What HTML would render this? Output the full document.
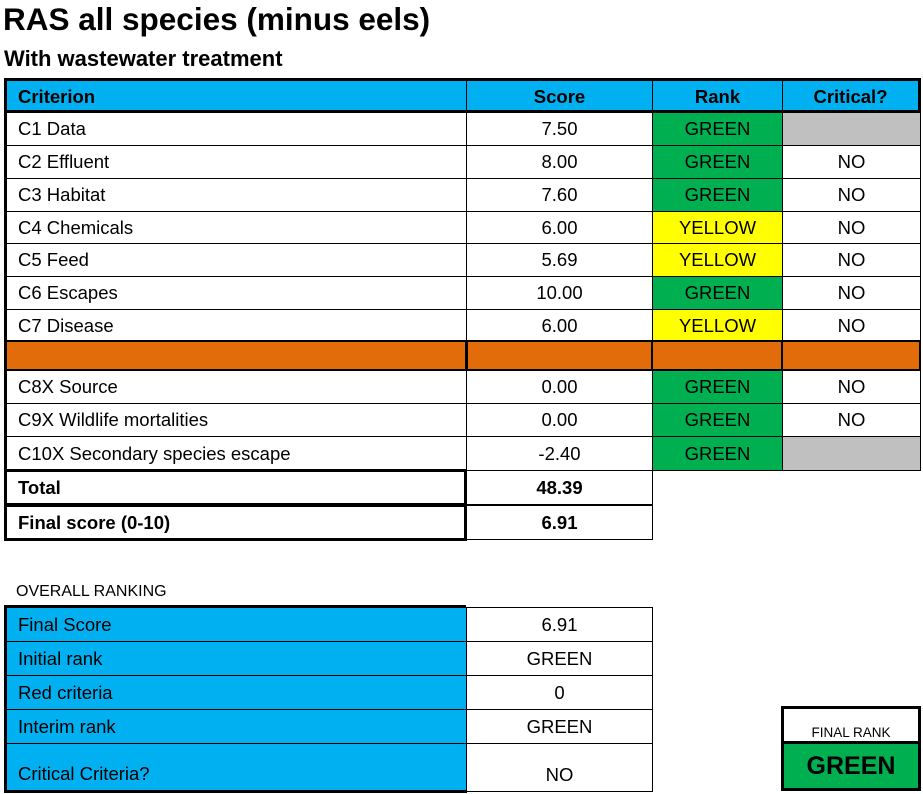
<!DOCTYPE html>
<html><head><meta charset="utf-8"><style>
body{margin:0;width:923px;height:794px;background:#fff;position:relative;overflow:hidden;font-family:"Liberation Sans",Arial,sans-serif;color:#000}
.c{position:absolute;box-sizing:border-box;font-size:18.5px;display:flex;align-items:center;border:1px solid #000;white-space:nowrap}
.l{padding-left:11px}
.m{justify-content:center}
.b{font-weight:bold}
.blue{background:#00b0f0}.g{background:#00b050}.y{background:#ffff00}.o{background:#e36c0a}.gr{background:#c0c0c0}
</style></head><body>
<div style="position:absolute;left:3px;top:1px;font-size:31.5px;font-weight:bold">RAS all species (minus eels)</div>
<div style="position:absolute;left:4px;top:46px;font-size:22px;font-weight:bold">With wastewater treatment</div>

<div style="position:absolute;left:4px;top:78px;width:917px;height:3px;background:#000"></div>
<div class="c blue l b" style="left:4px;top:80px;width:463px;height:33px;border-left:3px solid #000">Criterion</div>
<div class="c blue m b" style="left:466px;top:80px;width:187px;height:33px">Score</div>
<div class="c blue m b" style="left:652px;top:80px;width:131px;height:33px">Rank</div>
<div class="c blue m b" style="left:782px;top:80px;width:139px;height:33px;border-right:3px solid #000">Critical?</div>
<div style="position:absolute;left:4px;top:110px;width:917px;height:3px;background:#000"></div>

<div class="c l" style="left:4px;top:112px;width:463px;height:34px;border-left:3px solid #000">C1 Data</div>
<div class="c m" style="left:466px;top:112px;width:187px;height:34px">7.50</div>
<div class="c m g" style="left:652px;top:112px;width:131px;height:34px">GREEN</div>
<div class="c m gr" style="left:782px;top:112px;width:139px;height:34px"></div>

<div class="c l" style="left:4px;top:145px;width:463px;height:34px;border-left:3px solid #000">C2 Effluent</div>
<div class="c m" style="left:466px;top:145px;width:187px;height:34px">8.00</div>
<div class="c m g" style="left:652px;top:145px;width:131px;height:34px">GREEN</div>
<div class="c m" style="left:782px;top:145px;width:139px;height:34px">NO</div>

<div class="c l" style="left:4px;top:178px;width:463px;height:34px;border-left:3px solid #000">C3 Habitat</div>
<div class="c m" style="left:466px;top:178px;width:187px;height:34px">7.60</div>
<div class="c m g" style="left:652px;top:178px;width:131px;height:34px">GREEN</div>
<div class="c m" style="left:782px;top:178px;width:139px;height:34px">NO</div>

<div class="c l" style="left:4px;top:211px;width:463px;height:33px;border-left:3px solid #000">C4 Chemicals</div>
<div class="c m" style="left:466px;top:211px;width:187px;height:33px">6.00</div>
<div class="c m y" style="left:652px;top:211px;width:131px;height:33px">YELLOW</div>
<div class="c m" style="left:782px;top:211px;width:139px;height:33px">NO</div>

<div class="c l" style="left:4px;top:243px;width:463px;height:34px;border-left:3px solid #000">C5 Feed</div>
<div class="c m" style="left:466px;top:243px;width:187px;height:34px">5.69</div>
<div class="c m y" style="left:652px;top:243px;width:131px;height:34px">YELLOW</div>
<div class="c m" style="left:782px;top:243px;width:139px;height:34px">NO</div>

<div class="c l" style="left:4px;top:276px;width:463px;height:34px;border-left:3px solid #000">C6 Escapes</div>
<div class="c m" style="left:466px;top:276px;width:187px;height:34px">10.00</div>
<div class="c m g" style="left:652px;top:276px;width:131px;height:34px">GREEN</div>
<div class="c m" style="left:782px;top:276px;width:139px;height:34px">NO</div>

<div class="c l" style="left:4px;top:309px;width:463px;height:33px;border-left:3px solid #000">C7 Disease</div>
<div class="c m" style="left:466px;top:309px;width:187px;height:33px">6.00</div>
<div class="c m y" style="left:652px;top:309px;width:131px;height:33px">YELLOW</div>
<div class="c m" style="left:782px;top:309px;width:139px;height:33px">NO</div>

<div class="c o" style="left:4px;top:340px;width:463px;height:31px;border:2px solid #000;border-left:3px solid #000"></div>
<div class="c o" style="left:465px;top:340px;width:189px;height:31px;border:2px solid #000;border-left:3px solid #000"></div>
<div class="c o" style="left:651px;top:340px;width:133px;height:31px;border:2px solid #000"></div>
<div class="c o" style="left:781px;top:340px;width:140px;height:31px;border:2px solid #000"></div>

<div class="c l" style="left:4px;top:370px;width:463px;height:34px;border-left:3px solid #000">C8X Source</div>
<div class="c m" style="left:466px;top:370px;width:187px;height:34px">0.00</div>
<div class="c m g" style="left:652px;top:370px;width:131px;height:34px">GREEN</div>
<div class="c m" style="left:782px;top:370px;width:139px;height:34px">NO</div>

<div class="c l" style="left:4px;top:403px;width:463px;height:34px;border-left:3px solid #000">C9X Wildlife mortalities</div>
<div class="c m" style="left:466px;top:403px;width:187px;height:34px">0.00</div>
<div class="c m g" style="left:652px;top:403px;width:131px;height:34px">GREEN</div>
<div class="c m" style="left:782px;top:403px;width:139px;height:34px">NO</div>

<div class="c l" style="left:4px;top:436px;width:463px;height:35px;border-left:3px solid #000">C10X Secondary species escape</div>
<div class="c m" style="left:466px;top:436px;width:187px;height:35px">-2.40</div>
<div class="c m g" style="left:652px;top:436px;width:131px;height:35px">GREEN</div>
<div class="c m gr" style="left:782px;top:436px;width:139px;height:35px"></div>

<div class="c l b" style="left:4px;top:469px;width:463px;height:37px;border:3px solid #000">Total</div>
<div class="c m b" style="left:466px;top:470px;width:187px;height:35px">48.39</div>
<div class="c l b" style="left:4px;top:504px;width:463px;height:37px;border:3px solid #000">Final score (0-10)</div>
<div class="c m b" style="left:466px;top:505px;width:187px;height:35px">6.91</div>

<div style="position:absolute;left:16px;top:583px;font-size:16px">OVERALL RANKING</div>
<div style="position:absolute;left:4px;top:605px;width:462px;height:3px;background:#000"></div>
<div class="c blue l" style="left:4px;top:607px;width:463px;height:35px;border-left:3px solid #000">Final Score</div>
<div class="c m" style="left:466px;top:607px;width:187px;height:35px">6.91</div>
<div class="c blue l" style="left:4px;top:641px;width:463px;height:35px;border-left:3px solid #000">Initial rank</div>
<div class="c m" style="left:466px;top:641px;width:187px;height:35px">GREEN</div>
<div class="c blue l" style="left:4px;top:675px;width:463px;height:35px;border-left:3px solid #000">Red criteria</div>
<div class="c m" style="left:466px;top:675px;width:187px;height:35px">0</div>
<div class="c blue l" style="left:4px;top:709px;width:463px;height:35px;border-left:3px solid #000">Interim rank</div>
<div class="c m" style="left:466px;top:709px;width:187px;height:35px">GREEN</div>
<div class="c blue l" style="left:4px;top:743px;width:463px;height:50px;border-left:3px solid #000;border-bottom:3px solid #000;align-items:flex-end;padding-bottom:5px">Critical Criteria?</div>
<div class="c m" style="left:466px;top:743px;width:187px;height:49px;align-items:flex-end;padding-bottom:5px">NO</div>

<div class="c m" style="left:781px;top:706px;width:140px;height:37px;border:3px solid #000;border-bottom:none;font-size:13.5px;align-items:flex-end;padding-bottom:3px">FINAL RANK</div>
<div class="c m g b" style="left:781px;top:741px;width:140px;height:50px;border:3px solid #000;font-size:25px">GREEN</div>
</body></html>
